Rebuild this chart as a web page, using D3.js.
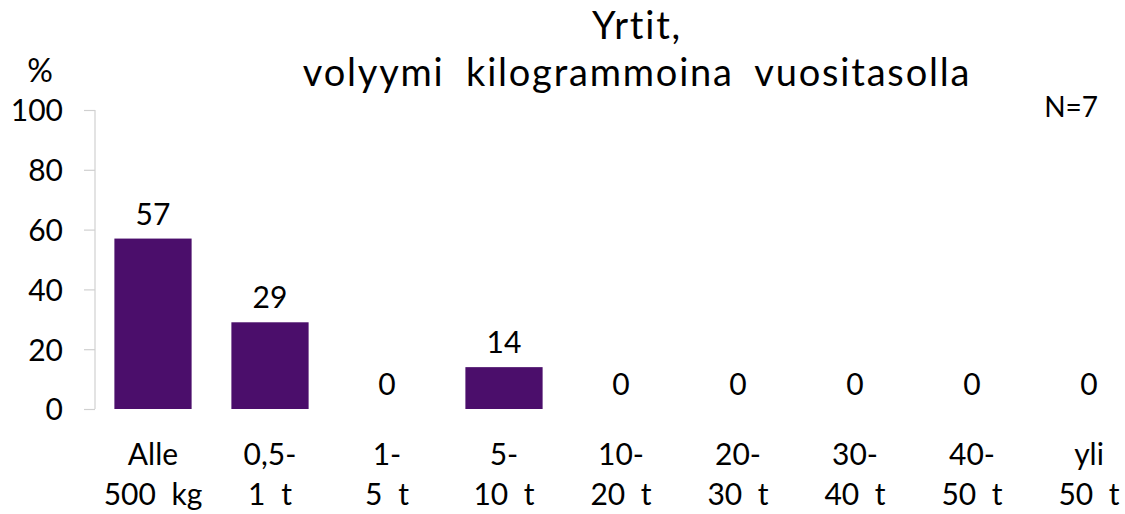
<!DOCTYPE html>
<html><head><meta charset="utf-8">
<script src="https://cdn.jsdelivr.net/npm/d3@7"></script>
<style>body{margin:0;background:#fff}svg{display:block}text{font-family:Lato,"Noto Sans",sans-serif;fill:#000}</style>
</head><body><svg id="c" width="1125" height="514"></svg>
<script>
const categories = [["Alle","500 kg"],["0,5-","1 t"],["1-","5 t"],["5-","10 t"],["10-","20 t"],["20-","30 t"],["30-","40 t"],["40-","50 t"],["yli","50 t"]];
const values = [57,29,0,14,0,0,0,0,0];
const yTicks = [0,20,40,60,80,100];
const titleLines = ["Yrtit,","volyymi kilogrammoina vuositasolla"];
const nLabel = "N=7";
const unitLabel = "%";

const svg = d3.select("#c");
const x = d3.scaleBand().domain(d3.range(categories.length)).range([94.5,1147.5]).paddingInner(0.34).paddingOuter(0.17);
const y = d3.scaleLinear().domain([0,100]).range([409,110]);

const yAxis = svg.append("g").attr("transform","translate(95,0)")
  .call(d3.axisLeft(y).tickValues(yTicks).tickSize(11).tickPadding(21).tickFormat(d3.format("d")));
yAxis.select(".domain").attr("stroke","#d0d0d0").attr("stroke-width",1.2).attr("d","M0,110V409");
yAxis.selectAll(".tick line").attr("stroke","#d0d0d0").attr("stroke-width",1.2);
yAxis.selectAll(".tick text").attr("font-size",30).attr("fill","#000").attr("dy","0.36em").style("font-family","Lato");

svg.append("g").selectAll("rect").data(values).join("rect")
  .attr("x",(d,i)=>x(i)).attr("width",x.bandwidth())
  .attr("y",d=>y(d)).attr("height",d=>y(0)-y(d)).attr("fill","#4b0e6b");

svg.append("g").selectAll("text").data(values).join("text")
  .attr("x",(d,i)=>x(i)+x.bandwidth()/2).attr("y",d=>y(d)-14)
  .attr("text-anchor","middle").attr("font-size",30).text(d=>d);

const xl = svg.append("g").selectAll("text").data(categories).join("text")
  .attr("text-anchor","middle").attr("font-size",30).attr("word-spacing",8);
xl.selectAll("tspan").data((d,i)=>d.map(t=>({t,i}))).join("tspan")
  .attr("x",d=>x(d.i)+x.bandwidth()/2).attr("y",(d,j)=>465+j*40).text(d=>d.t);

svg.append("g").selectAll("text").data(titleLines).join("text")
  .attr("x",637).attr("y",(d,i)=>39+i*47).attr("text-anchor","middle")
  .attr("font-size",38).attr("word-spacing",10).attr("letter-spacing",1.8).text(d=>d);

svg.append("text").attr("x",40).attr("y",82).attr("text-anchor","middle").attr("font-size",32).text(unitLabel);
svg.append("text").attr("x",1098).attr("y",117).attr("text-anchor","end").attr("font-size",28).text(nLabel);
</script></body></html>
